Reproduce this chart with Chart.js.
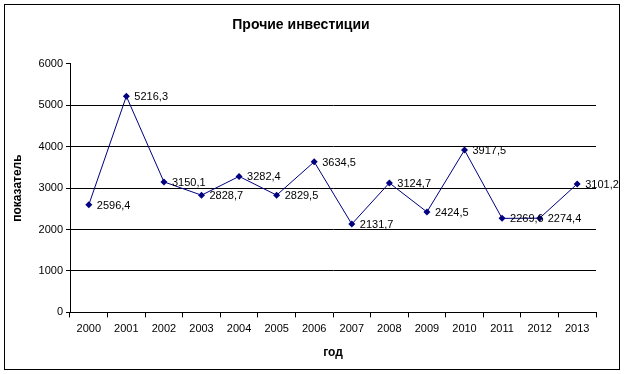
<!DOCTYPE html>
<html>
<head>
<meta charset="utf-8">
<script src="https://cdn.jsdelivr.net/npm/chart.js@4/dist/chart.umd.min.js"></script>
<style>
  html, body { margin: 0; padding: 0; background: #fff; }
  #wrap { width: 624px; height: 374px; }
</style>
</head>
<body>
<div id="wrap"><canvas id="chart" width="624" height="374"></canvas></div>
<script>
// данные
const years = ['2000', '2001', '2002', '2003', '2004', '2005', '2006',
               '2007', '2008', '2009', '2010', '2011', '2012', '2013'];
const values = [2596.4, 5216.3, 3150.1, 2828.7, 3282.4, 2829.5, 3634.5,
                2131.7, 3124.7, 2424.5, 3917.5, 2269.6, 2274.4, 3101.2];
const yTicks = [0, 1000, 2000, 3000, 4000, 5000, 6000];

const FONT = 'Liberation Sans, Arial, sans-serif';

// белый фон + рамка
const frame = {
    id: 'frame',
    beforeDraw(chart) {
        const ctx = chart.ctx;
        ctx.save();
        ctx.fillStyle = '#fff';
        ctx.fillRect(0, 0, chart.width, chart.height);
        ctx.strokeStyle = '#000';
        ctx.lineWidth = 1;
        ctx.strokeRect(4.5, 4.5, chart.width - 9, chart.height - 9);
        ctx.restore();
    }
};

// подписи значений справа от точек
const valueLabels = {
    id: 'valueLabels',
    afterDatasetsDraw(chart) {
        const ctx = chart.ctx;
        const meta = chart.getDatasetMeta(0);
        ctx.save();
        ctx.font = '11px ' + FONT;
        ctx.fillStyle = '#000';
        ctx.textAlign = 'left';
        ctx.textBaseline = 'middle';
        meta.data.forEach((pt, i) => {
            const txt = values[i].toFixed(1).replace('.', ',');
            ctx.fillText(txt, pt.x + 8, pt.y + 1);
        });
        ctx.restore();
    }
};

new Chart(document.getElementById('chart'), {
    type: 'line',
    data: {
        labels: years,
        datasets: [{
            data: values,
            borderColor: '#000080',
            backgroundColor: '#000080',
            borderWidth: 1,
            pointStyle: 'rectRot',
            pointRadius: 3.5,
            pointBorderWidth: 0,
            tension: 0
        }]
    },
    options: {
        responsive: false,
        animation: false,
        events: [],
        layout: { padding: { left: 6, right: 28, top: 10, bottom: 10 } },
        plugins: {
            legend: { display: false },
            tooltip: { enabled: false },
            title: {
                display: true,
                text: 'Прочие инвестиции',
                color: '#000',
                font: { family: FONT, size: 14, weight: 'bold' },
                padding: { top: 7, bottom: 30 }
            }
        },
        scales: {
            x: {
                offset: true,
                border: { color: '#000', width: 1 },
                grid: {
                    offset: true,
                    drawOnChartArea: false,
                    drawTicks: true,
                    tickLength: 5,
                    color: '#000'
                },
                ticks: {
                    color: '#000',
                    padding: 5,
                    maxRotation: 0,
                    autoSkip: false,
                    font: { family: FONT, size: 11 }
                },
                title: {
                    display: true,
                    text: 'год',
                    color: '#000',
                    font: { family: FONT, size: 12, weight: 'bold' },
                    padding: { top: 5, bottom: 4 }
                }
            },
            y: {
                min: 0,
                max: 6000,
                afterBuildTicks(scale) {
                    scale.ticks = yTicks.map(v => ({ value: v }));
                },
                afterFit(scale) {
                    scale.width = 64;
                },
                border: { color: '#000', width: 1 },
                grid: {
                    color: ctx => (ctx.tick && (ctx.tick.value === 0 || ctx.tick.value === 6000)) ? 'rgba(0,0,0,0)' : '#000',
                    tickColor: '#000',
                    tickLength: 4,
                    lineWidth: 1
                },
                ticks: {
                    color: '#000',
                    padding: 3,
                    font: { family: FONT, size: 11 },
                    callback: v => String(v)
                },
                title: {
                    display: true,
                    text: 'показатель',
                    color: '#000',
                    font: { family: FONT, size: 12, weight: 'bold' },
                    padding: 4
                }
            }
        }
    },
    plugins: [frame, valueLabels]
});
</script>
</body>
</html>
